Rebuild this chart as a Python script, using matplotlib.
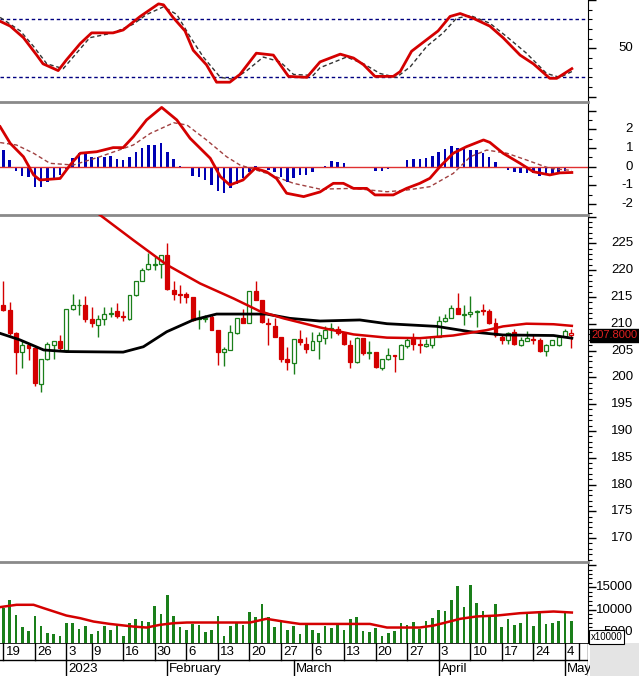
"""
Stock chart: stochastic, MACD, candles with MAs, volume
"""

import matplotlib
matplotlib.use("Agg")
import matplotlib.pyplot as plt
from matplotlib.patches import Rectangle
from matplotlib.ticker import MultipleLocator
from matplotlib.transforms import blended_transform_factory

plt.rcParams['font.family'] = ['Liberation Sans', 'DejaVu Sans']

# ---- data, bar index 0 = Dec 19 ----
opens = [213.4, 212.6, 208.2, 204.7, 206.0, 205.4, 198.7, 203.4, 206.0, 206.8,
         205.1, 212.7, 213.4, 213.4, 210.9, 209.8, 210.9, 211.8, 212.3, 211.5,
         210.9, 215.4, 218.0, 220.2, 220.9, 221.1, 222.8, 216.3, 215.6, 215.5,
         214.9, 210.8, 210.9, 211.3, 208.8, 204.8, 205.1, 208.2, 211.0, 210.1,
         216.1, 214.4, 210.2, 209.5, 207.6, 203.4, 202.6, 207.2, 206.3, 205.1,
         206.8, 207.4, 209.0, 209.1, 208.2, 206.0, 202.8, 207.3, 204.5, 204.8,
         201.8, 203.4, 204.2, 203.5, 205.9, 207.2, 206.2, 205.9, 206.0, 207.6,
         210.5, 211.1, 212.9, 211.6, 211.8, 212.1, 212.6, 212.3, 210.1, 207.6,
         207.0, 208.5, 206.0, 206.8, 207.2, 207.0, 204.9, 206.0, 206.0, 207.6,
         208.3]
highs = [217.9, 214.0, 208.5, 207.0, 206.3, 205.7, 203.5, 206.6, 206.8, 207.9,
         212.8, 215.5, 214.7, 215.1, 213.2, 211.6, 213.2, 213.2, 213.8, 212.3,
         215.4, 218.0, 220.3, 223.1, 222.5, 222.8, 225.0, 217.9, 217.2, 216.0,
         215.0, 212.6, 211.6, 211.9, 208.9, 205.7, 209.8, 211.0, 212.8, 216.1,
         217.9, 214.5, 211.0, 211.0, 207.6, 205.7, 207.2, 208.8, 207.6, 208.5,
         208.5, 209.5, 210.1, 209.5, 208.5, 207.0, 207.6, 207.3, 206.7, 204.8,
         203.4, 205.5, 204.2, 206.3, 207.3, 208.2, 207.2, 207.2, 207.6, 211.5,
         211.9, 213.5, 215.7, 213.5, 215.1, 212.6, 213.6, 212.8, 211.0, 207.9,
         208.5, 209.1, 207.6, 208.6, 208.0, 207.3, 206.3, 207.0, 207.6, 209.0,
         209.1]
lows = [212.3, 207.9, 200.7, 201.7, 203.2, 198.3, 197.3, 203.2, 203.4, 205.1,
        204.8, 212.6, 211.6, 210.4, 209.3, 207.6, 209.8, 211.3, 211.0, 210.5,
        210.7, 215.2, 217.9, 220.0, 220.0, 218.5, 216.3, 214.4, 213.8, 213.8,
        210.5, 209.1, 210.4, 208.8, 202.3, 202.1, 205.1, 208.0, 210.1, 210.1,
        214.4, 210.1, 206.0, 207.6, 202.9, 201.4, 200.7, 206.0, 204.5, 205.1,
        203.5, 206.3, 207.3, 207.9, 206.0, 201.8, 202.6, 204.2, 203.5, 201.8,
        201.4, 203.2, 200.9, 203.5, 205.4, 205.1, 204.5, 205.7, 205.4, 207.6,
        210.4, 211.0, 211.8, 209.8, 211.3, 209.3, 211.6, 209.9, 207.6, 206.2,
        206.3, 206.0, 205.9, 206.7, 206.3, 204.8, 203.9, 206.0, 205.9, 207.6,
        205.4]
closes = [212.6, 208.2, 204.8, 206.0, 205.5, 198.9, 203.4, 206.3, 206.7, 205.4,
          212.7, 213.4, 213.5, 210.9, 210.1, 210.9, 211.9, 212.0, 211.5, 211.2,
          215.4, 218.0, 220.0, 221.1, 221.1, 222.8, 216.5, 215.5, 215.4, 214.9,
          210.7, 211.0, 211.1, 208.8, 204.8, 205.2, 208.4, 211.0, 210.1, 216.1,
          214.4, 210.3, 210.0, 207.6, 203.5, 202.9, 207.2, 206.5, 205.3, 206.8,
          207.9, 208.8, 209.2, 208.2, 206.2, 202.9, 207.4, 204.5, 204.8, 202.0,
          203.4, 204.2, 204.0, 206.0, 207.0, 206.2, 206.1, 206.3, 207.6, 210.5,
          211.1, 212.9, 211.8, 211.9, 212.1, 212.4, 212.3, 210.1, 207.9, 207.0,
          208.2, 206.2, 207.0, 207.4, 207.0, 204.9, 206.0, 207.0, 207.6, 208.6,
          207.8]
volumes = [10450, 12200, 8800, 6140, 5160, 8560, 6360, 4640, 4400, 4100,
           6900, 6900, 5610, 6300, 4480, 5160, 6300, 5390, 6520, 4100,
           6900, 7880, 7430, 7270, 10830, 9020, 13330, 8560, 6140, 5390,
           6750, 6520, 5000, 5390, 8560, 4100, 6300, 6900, 6520, 9400,
           8330, 11290, 8330, 6140, 7130, 5390, 6300, 4400, 6750, 5390,
           4640, 6360, 5910, 6900, 5390, 7880, 8340, 5160, 4870, 5910,
           4100, 4640, 5160, 6900, 6600, 7270, 5610, 7430, 8180, 9930,
           9700, 12200, 15200, 10540, 15600, 11450, 9700, 8330, 11220, 6140,
           7880, 6520, 7050, 9540, 6300, 9320, 6750, 7050, 7430, 9180,
           7430]
macd_hist = [0.89, 0.36, -0.21, -0.5, -0.53, -1.1, -1.07, -0.8, -0.71, -0.44,
             -0.1, 0.45, 0.72, 0.68, 0.53, 0.5, 0.53, 0.57, 0.39, 0.36,
             0.5, 0.8, 0.98, 1.16, 1.16, 1.25, 0.8, 0.39, 0.04, -0.09,
             -0.5, -0.57, -0.71, -0.98, -1.28, -1.39, -1.16, -0.93, -0.62, -0.27,
             0.05, -0.04, -0.18, -0.27, -0.53, -0.8, -0.62, -0.44, -0.44, -0.3,
             -0.09, 0.05, 0.3, 0.27, 0.18, -0.09, 0.0, -0.04, -0.09, -0.23,
             -0.23, -0.14, -0.09, 0.0, 0.36, 0.39, 0.39, 0.45, 0.57, 0.8,
             0.93, 1.1, 0.98, 0.98, 0.89, 0.89, 0.75, 0.53, 0.27, -0.09,
             -0.18, -0.27, -0.32, -0.36, -0.32, -0.5, -0.39, -0.44, -0.27, -0.21,
             -0.09]

# line series: bar positions + values
ma_red_x = [-0.5, 10, 15.3, 20.6, 25.9, 31.2, 36.5, 40.7, 44.4, 50.2, 55.5, 60.8,
            66.0, 71.3, 76.6, 79.2, 82.9, 87.2, 90.1]
ma_red = [243.0, 235.0, 230.3, 225.6, 221.0, 217.5, 214.7, 212.3, 211.0, 209.3, 208.0,
          207.4, 207.3, 207.8, 208.8, 209.5, 210.0, 209.9, 209.6]
ma_black_x = [-0.5, 2.6, 6.4, 10.0, 19.0, 22.2, 25.9, 30.1, 33.8, 41.7, 45.4, 50.2,
              56.5, 60.8, 68.7, 74.0, 79.2, 87.2, 90.1]
ma_black = [208.2, 207.0, 205.1, 204.8, 204.7, 205.7, 208.5, 210.7, 211.8, 211.8,
            211.0, 210.5, 210.7, 210.0, 209.5, 208.5, 207.9, 207.8, 207.3]

vol_ma_x = [-0.5, 2.1, 4.8, 6.4, 10.0, 12.2, 14.3, 16.9, 20.6, 22.7, 24.8, 27.0,
            29.1, 39.1, 41.7, 44.4, 47.0, 50.2, 58.1, 60.8, 66.0, 68.2, 69.7,
            72.4, 75.0, 78.2, 81.9, 87.2, 90.1]
vol_ma = [10540, 11060, 11060, 10300, 8640, 8040, 7290, 6750, 6160, 5940, 6540,
          6920, 7070, 7070, 7900, 7290, 6750, 6750, 6750, 5940, 5940, 6390, 6920,
          7900, 8430, 8640, 9170, 9550, 9320]

stoch_k_x = [-0.5, 1.1, 3.2, 5.3, 6.3, 8.7, 10.0, 12.2, 14.0, 17.4, 19.0, 21.7,
             24.6, 25.4, 26.9, 28.8, 30.1, 32.2, 33.8, 35.9, 37.5, 40.1, 42.8,
             45.2, 48.1, 50.2, 53.4, 55.5, 57.1, 58.9, 60.2, 61.8, 62.9, 64.7,
             67.1, 68.9, 70.8, 72.4, 74.5, 77.1, 79.2, 81.9, 84.0, 86.6, 87.7, 90.1]
stoch_k = [78, 73, 61, 43, 34, 27, 38, 55, 66, 66, 69, 83, 96, 95, 82, 68, 48, 33,
           15, 15, 23, 45, 43, 21, 20, 36, 44, 40, 33, 21, 21, 21, 26, 47, 59, 68,
           83, 86, 81, 73, 61, 43, 34, 19, 19, 29]
stoch_d_x = [-0.5, 2.7, 4.8, 6.9, 9.5, 11.6, 13.7, 17.4, 20.6, 22.7, 25.4, 27.5,
             29.6, 31.7, 34.4, 36.5, 38.6, 41.2, 43.9, 46.0, 49.1, 50.2, 54.4,
             57.1, 59.7, 62.3, 64.5, 67.1, 69.7, 71.8, 74.0, 77.1, 79.8, 82.9,
             86.1, 88.2, 90.1]
stoch_d = [82, 68, 52, 34, 29, 45, 61, 66, 75, 85, 93, 85, 62, 41, 20, 18, 27, 41,
           36, 23, 22, 30, 41, 34, 24, 20, 31, 52, 66, 81, 84, 76, 62, 45, 24, 20, 26]

macd_x = [-0.5, 1.1, 3.2, 4.8, 5.8, 9.0, 10.6, 12.2, 14.8, 17.4, 19.0, 20.6, 22.7,
          25.1, 27.5, 29.6, 32.8, 34.4, 35.9, 38.0, 39.9, 41.7, 43.3, 44.9, 47.6,
          50.2, 52.3, 53.9, 55.5, 57.6, 58.9, 61.8, 63.9, 66.0, 67.6, 69.2, 71.3,
          73.4, 76.1, 77.1, 79.2, 81.9, 84.0, 86.6, 88.2, 90.1]
macd = [2.14, 1.25, 0.53, -0.44, -0.71, -0.63, 0.09, 0.72, 0.8, 1.02, 1.02, 1.6,
        2.5, 3.17, 2.5, 1.52, 0.45, -0.53, -0.98, -0.71, -0.09, -0.27, -0.63,
        -1.42, -1.6, -1.35, -0.89, -0.89, -1.16, -1.16, -1.51, -1.51, -1.16,
        -0.89, -0.62, 0.0, 0.72, 1.07, 1.43, 1.3, 0.72, 0.18, -0.27, -0.44,
        -0.33, -0.31]
signal_x = [-0.5, 2.1, 4.8, 7.4, 11.1, 15.3, 20.6, 23.3, 27.0, 29.1, 32.2, 35.4,
            37.5, 41.7, 46.0, 50.2, 55.5, 60.8, 63.9, 67.6, 71.3, 74.0, 76.6,
            79.8, 82.9, 86.6, 90.1]
signal = [1.29, 1.16, 0.72, 0.18, 0.09, 0.53, 1.16, 1.78, 2.35, 2.23, 1.43, 0.53,
          0.09, -0.35, -0.89, -1.2, -1.16, -1.34, -1.25, -1.07, -0.36, 0.53,
          0.89, 0.72, 0.36, -0.09, -0.2]

day_pos = [0, 5, 10, 14, 19, 24, 29, 34, 39, 44, 49, 54, 59, 64, 69, 74, 79, 84, 89]
day_labels = ['19', '26', '3', '9', '16', '30', '6', '13', '20', '27',
              '6', '13', '20', '27', '3', '10', '17', '24', '4']
month_pos = [10, 26, 46, 69, 89]
month_labels = ['2023', 'February', 'March', 'April', 'May']
last_price = 207.8

# ---- layout (pixel based) ----
W, H = 639, 676
RIGHT = 588
XLIM = (-0.52, 92.66)
RED = '#d40000'
GREEN = '#1a7f1a'


def rect(top, bottom):
    return [0, 1 - bottom / H, RIGHT / W, (bottom - top) / H]


fig = plt.figure(figsize=(W / 100, H / 100), dpi=100)
ax_st = fig.add_axes(rect(0, 101))
ax_md = fig.add_axes(rect(102, 214))
ax_pr = fig.add_axes(rect(215, 561))
ax_vo = fig.add_axes(rect(562, 643))
ax_dt = fig.add_axes(rect(643, 676))


def style_panel(ax, ylim, major, minor, top_line=True):
    ax.set_xlim(*XLIM)
    ax.set_ylim(*ylim)
    ax.set_xticks([])
    ax.yaxis.tick_right()
    ax.yaxis.set_major_locator(MultipleLocator(major))
    ax.yaxis.set_minor_locator(MultipleLocator(minor))
    ax.tick_params(axis='y', which='major', length=6, width=1, labelright=False)
    ax.tick_params(axis='y', which='minor', length=3, width=0.8)
    ax.spines['left'].set_visible(False)
    ax.spines['bottom'].set_visible(False)
    ax.spines['right'].set_color('black')
    if top_line:
        ax.spines['top'].set_color('#8a8a8a')
        ax.spines['top'].set_linewidth(2)
    else:
        ax.spines['top'].set_visible(False)


def right_labels(ax, values, labels, fs=9.5):
    tr = blended_transform_factory(fig.transFigure, ax.transData)
    for v, s in zip(values, labels):
        ax.text(633 / W, v, s, transform=tr, ha='right', va='center', fontsize=fs)


# ---- stochastic ----
style_panel(ax_st, (-4.45, 100), 50, 10, top_line=False)
ax_st.axhline(80, color='#000080', lw=1, ls=(0, (2.5, 2)))
ax_st.axhline(20, color='#000080', lw=1, ls=(0, (2.5, 2)))
ax_st.plot(stoch_d_x, stoch_d, color='#333333', lw=1, ls=(0, (3, 2)))
ax_st.plot(stoch_k_x, stoch_k, color=RED, lw=2)
right_labels(ax_st, [50], ['50'])

# ---- MACD ----
style_panel(ax_md, (-2.53, 3.46), 1, 0.5)
ax_md.axhline(0, color='#e03030', lw=1)
ax_md.bar(range(len(macd_hist)), macd_hist, width=0.4, color='#0000b4')
ax_md.plot(signal_x, signal, color='#a04040', lw=1, ls=(0, (3, 2)))
ax_md.plot(macd_x, macd, color=RED, lw=2)
right_labels(ax_md, [2, 1, 0, -1, -2], ['2', '1', '0', '-1', '-2'])

# ---- candles ----
style_panel(ax_pr, (165.73, 230.28), 5, 1)
for i, (o, h, l, c) in enumerate(zip(opens, highs, lows, closes)):
    up = c >= o
    last = i == len(opens) - 1
    col = RED if (not up or last) else GREEN
    ax_pr.vlines(i, l, h, color=col, lw=1, zorder=2)
    body = max(abs(c - o), 0.12)
    face = 'white' if (up or last) else RED
    ax_pr.bar(i, body, bottom=min(o, c), width=0.62, facecolor=face,
              edgecolor=col, linewidth=0.9, zorder=3)
ax_pr.plot(ma_black_x, ma_black, color='black', lw=2, zorder=4)
ax_pr.plot(ma_red_x, ma_red, color=RED, lw=1.8, zorder=4)
right_labels(ax_pr, range(170, 230, 5), [str(v) for v in range(170, 230, 5)])
tr_pr = blended_transform_factory(fig.transFigure, ax_pr.transData)
ax_pr.text(591.5 / W, last_price, '207.8000', transform=tr_pr, color='#e02020',
           fontsize=8, ha='left', va='center', zorder=10,
           bbox=dict(facecolor='black', edgecolor='black', pad=1.2))

# ---- volume ----
style_panel(ax_vo, (2455, 20700), 5000, 1000)
ax_vo.bar(range(len(volumes)), volumes, width=0.42, color=GREEN)
ax_vo.plot(vol_ma_x, vol_ma, color=RED, lw=1.8)
right_labels(ax_vo, [15000, 10000, 5000], ['15000', '10000', '5000'])
fig.text(591 / W, 1 - 637 / H, 'x10000', fontsize=7, ha='left', va='center',
         bbox=dict(facecolor='white', edgecolor='black', pad=1.2, lw=0.8))

# ---- date axis ----
ax_dt.set_xlim(*XLIM)
ax_dt.set_ylim(0, 1)
ax_dt.axis('off')
mid = 0.485
ax_dt.axhline(1, color='black', lw=1.2)
ax_dt.axhline(mid, color='black', lw=1)
for p, s in zip(day_pos, day_labels):
    ax_dt.plot([p, p], [mid, 1], color='black', lw=1)
    ax_dt.text(p + 0.35, 0.74, s, fontsize=9.5, ha='left', va='center')
ax_dt.plot([91.2, 91.2], [mid, 1], color='black', lw=1)
for p, s in zip(month_pos, month_labels):
    ax_dt.plot([p, p], [0, mid], color='black', lw=1)
    ax_dt.text(p + 0.3, 0.22, s, fontsize=9.5, ha='left', va='center')
ax_dt.plot([XLIM[1], XLIM[1]], [0, 1], color='black', lw=1)

fig.patches.append(Rectangle((590 / W, 0), 49 / W, 33 / H, transform=fig.transFigure,
                             facecolor='#e4e4e4', edgecolor='none'))

fig.savefig('out.png', dpi=100)
plt.close(fig)
